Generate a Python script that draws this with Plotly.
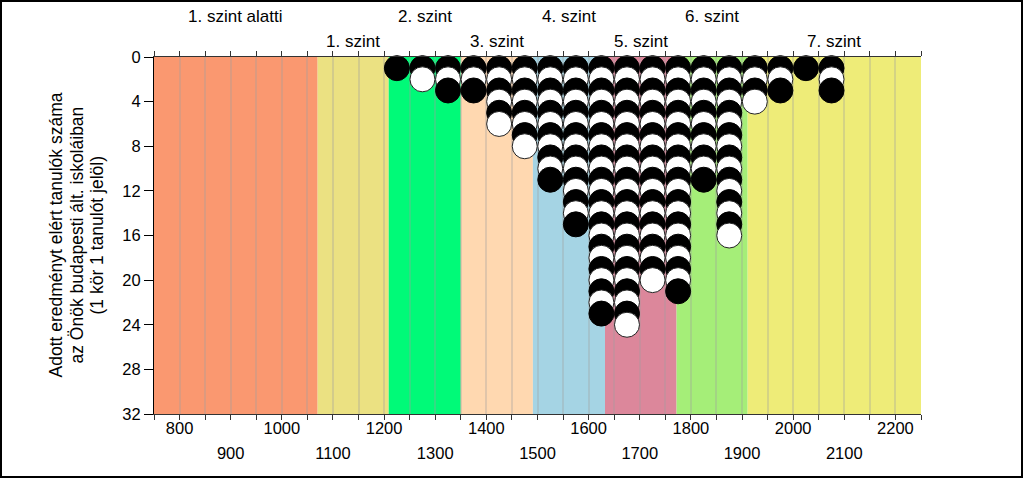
import plotly.graph_objects as go

# ---- data ----
score_bins = [1225, 1275, 1325, 1375, 1425, 1475, 1525, 1575, 1625, 1675,
              1725, 1775, 1825, 1875, 1925, 1975, 2025, 2075]
student_counts = [1, 2, 3, 3, 6, 8, 11, 15, 23, 24, 20, 21, 11, 16, 4, 3, 1, 3]

level_edges = [750, 1070, 1209, 1350, 1491, 1632, 1772, 1911, 2250]
level_names = ["1. szint alatti", "1. szint", "2. szint", "3. szint",
               "4. szint", "5. szint", "6. szint", "7. szint"]
level_colors = ["#FA9870", "#EBE182", "#00FA78", "#FFD8B0",
                "#A5D4E4", "#DC879B", "#A5EE78", "#EEEC78"]

x_ticks_row1 = [800, 1000, 1200, 1400, 1600, 1800, 2000, 2200]
x_ticks_row2 = [900, 1100, 1300, 1500, 1700, 1900, 2100]
y_ticks = [0, 4, 8, 12, 16, 20, 24, 28, 32]

y_title_lines = ["Adott eredményt elért tanulók száma",
                 "az Önök budapesti ált. iskoláiban",
                 "(1 kör 1 tanulót jelöl)"]

FONT = "Liberation Sans, Arial, sans-serif"
L, R, T, B = 154, 103, 57, 64
W, H = 1024, 478
PW, PH = W - L - R, H - T - B

# expand counts into stacked circles
xs, ys, fills, edges = [], [], [], []
for xb, n in zip(score_bins, student_counts):
    for k in range(1, n + 1):
        xs.append(xb)
        ys.append(k)
        if k % 2 == 1:
            fills.append("black"); edges.append("black")
        else:
            fills.append("white"); edges.append("#222222")

fig = go.Figure()
fig.add_trace(go.Scatter(
    x=xs, y=ys, mode="markers", cliponaxis=False, hoverinfo="skip",
    marker=dict(size=25, color=fills, line=dict(color=edges, width=1)),
    showlegend=False))
# helper invisible trace for second tick-label row axis
fig.add_trace(go.Scatter(x=[x_ticks_row2[0]], y=[0], xaxis="x2", mode="markers",
                         marker=dict(opacity=0), showlegend=False, hoverinfo="skip"))

shapes = []
annotations = []
for i, name in enumerate(level_names):
    x0, x1 = level_edges[i], level_edges[i + 1]
    shapes.append(dict(type="rect", xref="x", yref="paper", x0=x0, x1=x1, y0=0, y1=1,
                       fillcolor=level_colors[i], line=dict(width=0), layer="below"))
    py = 16.5 if i % 2 == 0 else 41.5
    annotations.append(dict(xref="x", yref="paper", x=(x0 + x1) / 2,
                            y=(H - B - py) / PH, text=name, showarrow=False,
                            xanchor="center", yanchor="middle",
                            font=dict(family=FONT, size=17, color="black")))

for px, line in zip([55, 76, 96], y_title_lines):
    annotations.append(dict(xref="paper", yref="paper", x=(px - L) / PW, y=0.5,
                            text=line, textangle=-90, showarrow=False,
                            xanchor="center", yanchor="middle",
                            font=dict(family=FONT, size=17.5, color="black")))

# outer border
shapes.append(dict(type="rect", xref="paper", yref="paper",
                   x0=(1 - L) / PW, x1=(1022 - L) / PW,
                   y0=(H - B - 477) / PH, y1=(H - B - 1) / PH,
                   line=dict(color="black", width=2), fillcolor="rgba(0,0,0,0)",
                   layer="above"))

all_x_ticks = list(range(level_edges[0], level_edges[-1] + 1, 50))
x_text = [str(v) if v in x_ticks_row1 else "" for v in all_x_ticks]

fig.update_layout(
    width=W, height=H,
    margin=dict(l=L, r=R, t=T, b=B, pad=0),
    paper_bgcolor="white", plot_bgcolor="white",
    font=dict(family=FONT, size=16.5, color="black"),
    shapes=shapes, annotations=annotations,
    xaxis=dict(range=[level_edges[0], level_edges[-1]], tickmode="array",
               tickvals=all_x_ticks, ticktext=x_text, ticks="outside", ticklen=5,
               tickcolor="#333333", showline=True, linecolor="#333333", linewidth=1,
               mirror="ticks", showgrid=True, gridcolor="rgba(160,160,160,0.32)",
               gridwidth=1.5, zeroline=False, ticklabelstandoff=-6,
               tickfont=dict(family=FONT, size=16.5, color="black")),
    xaxis2=dict(range=[level_edges[0], level_edges[-1]], overlaying="x", anchor="y",
                side="bottom", tickmode="array", tickvals=x_ticks_row2,
                ticktext=[str(v) for v in x_ticks_row2], ticks="", showline=False,
                showgrid=False, zeroline=False, ticklabelstandoff=27,
                tickfont=dict(family=FONT, size=16.5, color="black")),
    yaxis=dict(range=[32, 0], tickmode="array", tickvals=y_ticks,
               ticks="outside", ticklen=9, tickcolor="black", showline=True,
               linecolor="black", linewidth=1, showgrid=False, zeroline=False,
               tickfont=dict(family=FONT, size=16.5, color="black")),
)

fig.write_html("out.html")
